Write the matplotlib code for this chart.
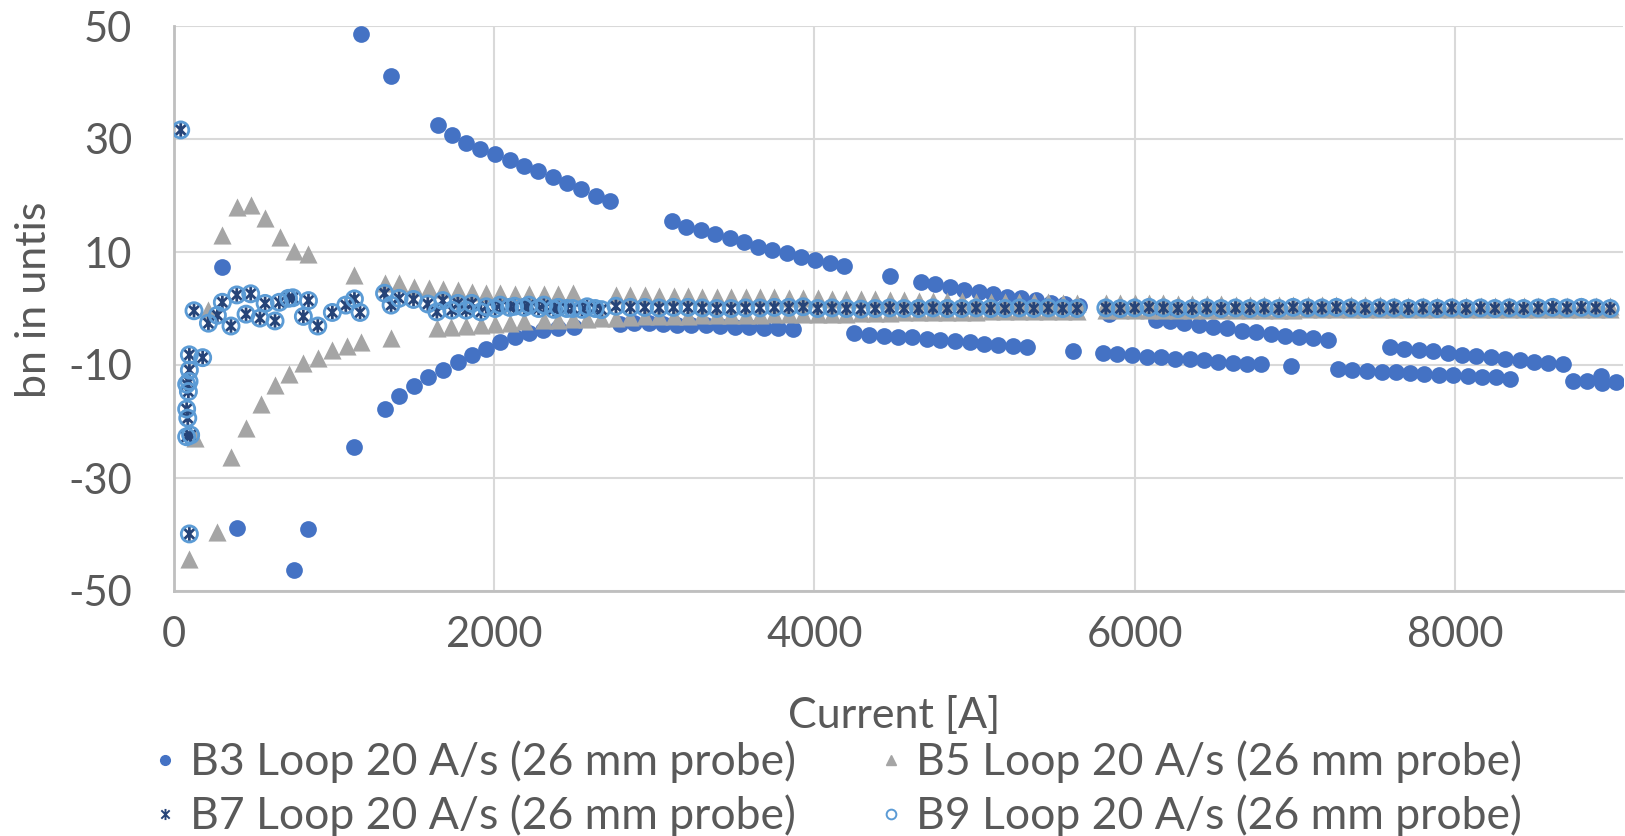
import numpy as np
import matplotlib
matplotlib.use("Agg")
import matplotlib.pyplot as plt
from matplotlib.path import Path
from matplotlib.lines import Line2D

plt.rcParams['font.family'] = ['Lato', 'DejaVu Sans']
plt.rcParams['axes.unicode_minus'] = False

# datos
# B3 (circulos azules)
b3_current = [302, 392, 748, 840, 1127, 1167, 1355,
              1646, 1735, 1825, 1912, 2006, 2096, 2187, 2273, 2365, 2455, 2544, 2634, 2723,
              3109, 3198, 3292, 3381, 3471, 3560, 3649, 3738, 3827, 3917, 4006, 4096, 4185,
              4475, 4667, 4756, 4846, 4933, 5027, 5115, 5204, 5292, 5385, 5475, 5562, 5650, 5840,
              6131, 6221, 6308, 6402, 6492, 6579, 6669, 6760, 6850, 6937, 7027, 7114, 7208,
              7596, 7683, 7777, 7865, 7954, 8044, 8135, 8225, 8315, 8404, 8496, 8583, 8673, 8912,
              1315, 1404, 1496, 1585, 1679, 1773, 1860, 1950, 2037, 2127, 2217, 2306, 2400, 2496,
              2783, 2875, 2964, 3056, 3142, 3231, 3323, 3412, 3504, 3594, 3683, 3773, 3864,
              4246, 4340, 4433, 4523, 4610, 4700, 4787, 4877, 4971, 5058, 5148, 5240, 5329, 5617,
              5802, 5892, 5985, 6075, 6162, 6252, 6344, 6433, 6523, 6614, 6704, 6792, 6979,
              7273, 7360, 7450, 7542, 7631, 7721, 7808, 7898, 7987, 8079, 8167, 8256, 8346,
              8735, 8825, 8917, 9006]
b3_values = [7.4, -38.9, -46.3, -39.1, -24.5, 48.5, 41.2,
             32.5, 30.7, 29.3, 28.2, 27.3, 26.3, 25.3, 24.3, 23.2, 22.2, 21.1, 20.0, 19.0,
             15.4, 14.5, 13.9, 13.1, 12.4, 11.7, 10.9, 10.4, 9.8, 9.2, 8.6, 8.0, 7.5,
             5.8, 4.7, 4.3, 3.75, 3.3, 2.9, 2.5, 2.1, 1.8, 1.5, 1.0, 0.8, 0.4, -0.9,
             -2.0, -2.3, -2.6, -2.9, -3.3, -3.5, -3.9, -4.2, -4.5, -4.8, -5.1, -5.3, -5.6,
             -6.9, -7.1, -7.3, -7.6, -7.9, -8.2, -8.4, -8.6, -8.9, -9.1, -9.4, -9.7, -9.9, -11.9,
             -17.8, -15.4, -13.8, -12.2, -10.9, -9.5, -8.2, -7.1, -6.0, -5.0, -4.3, -3.8, -3.5, -3.3,
             -2.7, -2.6, -2.6, -2.7, -2.9, -3.0, -3.0, -3.1, -3.2, -3.3, -3.4, -3.5, -3.6,
             -4.4, -4.7, -4.8, -5.0, -5.1, -5.4, -5.6, -5.8, -6.0, -6.3, -6.5, -6.6, -6.9, -7.5,
             -7.9, -8.1, -8.3, -8.5, -8.6, -8.9, -9.0, -9.2, -9.4, -9.6, -9.8, -9.9, -10.1,
             -10.7, -10.9, -11.0, -11.2, -11.3, -11.5, -11.6, -11.8, -11.8, -11.9, -12.1, -12.2, -12.4,
             -12.8, -12.9, -13.1, -13.0]

# B5 (triangulos grises)
b5_current = [96, 131, 210, 271, 302, 356, 392, 448, 479, 542, 571, 631, 662, 719, 750,
              808, 840, 898, 989, 1079, 1127, 1167, 1356,
              1315, 1406, 1500, 1590, 1679, 1773, 1860, 1950, 2037, 2127, 2217,
              2310, 2400, 2490, 2760, 2850, 2940, 3030, 3120, 3210, 3300, 3390, 3480, 3570,
              3660, 3750, 3840, 3930, 4020, 4110, 4200, 4290, 4380, 4470, 4560, 4650, 4740,
              4830, 4920, 5010, 5100, 5190, 5280, 5370, 5460, 5550, 5640, 5820, 5910, 6000,
              6090, 6180, 6270, 6360, 6450, 6540, 6630, 6720, 6810, 6900, 6990, 7080, 7170,
              7260, 7350, 7440, 7530, 7620, 7710, 7800, 7890, 7980, 8070, 8160, 8250, 8340,
              8430, 8520, 8610, 8700, 8790, 8880, 8970,
              1642, 1731, 1825, 1917, 2006, 2096, 2187,
              2310, 2400, 2490, 2580, 2670, 2760, 2850, 2940, 3030, 3120, 3210, 3300, 3390,
              3480, 3570, 3660, 3750, 3840, 3930, 4020, 4110, 4200, 4290, 4380, 4470, 4560,
              4650, 4740, 4830, 4920, 5010, 5100, 5190, 5280, 5370, 5460, 5550, 5640, 5820,
              5910, 6000, 6090, 6180, 6270, 6360, 6450, 6540, 6630, 6720, 6810, 6900, 6990,
              7080, 7170, 7260, 7350, 7440, 7530, 7620, 7710, 7800, 7890, 7980, 8070, 8160,
              8250, 8340, 8430, 8520, 8610, 8700, 8790, 8880, 8970]
b5_values = [-44.4, -23.0, -0.2, -39.5, 13.0, -26.2, 17.9, -21.1, 18.4, -16.9, 16.0, -13.5, 12.6, -11.6, 10.1,
             -9.6, 9.6, -8.8, -7.3, -6.6, 5.9, -5.9, -5.3,
             4.5, 4.5, 3.75, 3.6, 3.4, 3.2, 3.0, 2.7, 2.8, 2.6, 2.6,
             2.6, 2.6, 2.7, 2.4, 2.4, 2.4, 2.3, 2.3, 2.2, 2.1, 2.1, 2.0, 2.0,
             2.0, 2.0, 1.9, 1.8, 1.8, 1.7, 1.7, 1.6, 1.6, 1.5, 1.5, 1.4, 1.4,
             1.3, 1.3, 1.2, 1.2, 1.2, 1.1, 1.1, 1.1, 1.0, 1.0, 1.0, 0.9, 0.9,
             0.9, 0.9, 0.8, 0.8, 0.8, 0.8, 0.7, 0.7, 0.7, 0.7, 0.7, 0.6, 0.6,
             0.6, 0.6, 0.6, 0.6, 0.5, 0.5, 0.5, 0.5, 0.5, 0.5, 0.5, 0.5, 0.5,
             0.5, 0.5, 0.5, 0.5, 0.5, 0.5, 0.5,
             -3.5, -3.2, -3.1, -2.9, -2.7, -2.5, -2.3,
             -2.1, -2.0, -1.9, -1.8, -1.7, -1.6, -1.5, -1.4, -1.4, -1.3, -1.3, -1.2, -1.2,
             -1.1, -1.1, -1.1, -1.0, -1.0, -1.0, -0.9, -0.9, -0.9, -0.8, -0.8, -0.8, -0.7,
             -0.7, -0.7, -0.6, -0.6, -0.6, -0.5, -0.5, -0.5, -0.4, -0.4, -0.4, -0.4, -0.3,
             -0.3, -0.3, -0.3, -0.3, -0.2, -0.2, -0.2, -0.2, -0.2, -0.2, -0.2, -0.2, -0.2,
             -0.1, -0.1, -0.1, -0.1, -0.1, -0.1, -0.1, -0.1, -0.1, -0.1, -0.1, -0.1, -0.1,
             -0.1, -0.1, -0.1, -0.1, -0.1, -0.1, -0.1, -0.1, -0.1]

# B7 (asteriscos) y B9 (circulos abiertos) casi coinciden
b7_current = [42, 96, 179, 96, 94, 90, 79, 79, 86, 79, 104, 96,
              125, 215, 271, 302, 356, 392, 450, 479, 537, 569, 631, 658, 715, 742,
              808, 840, 898, 989, 1073, 1127, 1162, 1315, 1356, 1406, 1496, 1585,
              1642, 1679, 1735, 1773, 1825, 1860, 1917, 1950, 2006, 2037, 2096, 2127,
              2187, 2217, 2277, 2371, 2454, 2548, 2631,
              2310, 2400, 2490, 2580, 2670, 2760, 2850, 2940, 3030, 3120, 3210, 3300, 3390,
              3480, 3570, 3660, 3750, 3840, 3930, 4020, 4110, 4200, 4290, 4380, 4470, 4560,
              4650, 4740, 4830, 4920, 5010, 5100, 5190, 5280, 5370, 5460, 5550, 5640, 5820,
              5910, 6000, 6090, 6180, 6270, 6360, 6450, 6540, 6630, 6720, 6810, 6900, 6990,
              7080, 7170, 7260, 7350, 7440, 7530, 7620, 7710, 7800, 7890, 7980, 8070, 8160,
              8250, 8340, 8430, 8520, 8610, 8700, 8790, 8880, 8970]
b7_values = [31.6, -8.2, -8.7, -10.9, -12.9, -14.7, -13.4, -17.8, -19.4, -22.7, -22.4, -39.9,
             -0.4, -2.6, -1.2, 1.1, -3.1, 2.4, -1.0, 2.6, -1.7, 0.9, -2.2, 1.1, 1.8, 1.9,
             -1.4, 1.4, -3.1, -0.7, 0.6, 1.7, -0.7, 2.7, 0.6, 1.8, 1.6, 0.8,
             -0.6, 1.4, -0.3, 0.9, -0.3, 0.9, -0.6, 0.3, 0.0, 0.6, 0.2, 0.4,
             0.2, 0.6, 0.0, -0.15, 0.0, -0.15, 0.0,
             0.6, 0.2, 0.0, 0.3, -0.2, 0.4, 0.2, 0.2, 0.1, 0.2, 0.2, 0.1, 0.0,
             0.0, 0.1, 0.1, 0.2, 0.2, 0.3, 0.0, 0.1, 0.0, -0.1, 0.0, 0.1, 0.0,
             0.0, 0.1, 0.0, 0.0, 0.1, 0.0, 0.0, 0.1, 0.0, 0.1, 0.0, 0.0, 0.1,
             0.0, 0.1, 0.2, 0.1, 0.0, 0.0, 0.1, 0.0, 0.1, 0.0, 0.1, 0.0, 0.2,
             0.1, 0.1, 0.2, 0.1, 0.0, 0.1, 0.1, 0.0, 0.1, 0.0, 0.1, 0.0, 0.1,
             0.0, 0.1, 0.0, 0.1, 0.2, 0.1, 0.2, 0.1, 0.0]
b9_current = list(b7_current)
b9_values = list(b7_values)

labels = ["B3 Loop 20 A/s (26 mm probe)", "B5 Loop 20 A/s (26 mm probe)",
          "B7 Loop 20 A/s (26 mm probe)", "B9 Loop 20 A/s (26 mm probe)"]
c_b3, c_b5, c_b7, c_b9 = "#4472C4", "#A5A5A5", "#264478", "#5B9BD5"
txt = "#595959"

# marcador tipo asterisco de excel
star = Path([(0, -1), (0, 1), (-0.75, -0.75), (0.75, 0.75), (-0.75, 0.75), (0.75, -0.75)],
            [Path.MOVETO, Path.LINETO] * 3)

W, H = 1625, 836
fig = plt.figure(figsize=(W / 100, H / 100), dpi=100)
ax = fig.add_axes([174 / W, 1 - 591 / H, (1623 - 174) / W, (591 - 26) / H])

ax.scatter(b3_current, b3_values, s=145, marker='o', color=c_b3, linewidths=0, zorder=3)
ax.scatter(b5_current, b5_values, s=170, marker='^', color=c_b5, linewidths=0, zorder=3)
ax.scatter(b7_current, b7_values, s=100, marker=star, facecolor='none', edgecolor=c_b7,
           linewidths=2.0, zorder=4)
ax.scatter(b9_current, b9_values, s=135, marker='o', facecolor='none', edgecolor=c_b9,
           linewidths=2.0, zorder=5)

ax.set_xlim(0, 9050)
ax.set_ylim(-50, 50)
ax.set_xticks([0, 2000, 4000, 6000, 8000])
ax.set_yticks([-50, -30, -10, 10, 30, 50])
ax.grid(True, color='#D9D9D9', lw=1.5, zorder=0)
ax.set_axisbelow(True)
for s in ['top', 'right']:
    ax.spines[s].set_visible(False)
for s in ['left', 'bottom']:
    ax.spines[s].set_color('#BFBFBF')
    ax.spines[s].set_linewidth(2)
ax.tick_params(axis='both', length=0, labelsize=30, labelcolor=txt)
ax.tick_params(axis='y', pad=30)
ax.tick_params(axis='x', pad=18)

fig.text(894 / W, 1 - 715 / H, "Current [A]", fontsize=31, color=txt, ha='center', va='center')
fig.text(34 / W, 1 - 300 / H, "bn in untis", fontsize=31, color=txt, ha='center', va='center',
         rotation=90)

handles = [Line2D([], [], ls='none', marker='o', color=c_b3, markersize=7),
           Line2D([], [], ls='none', marker=star, markeredgecolor=c_b7, markerfacecolor='none',
                  markersize=8, markeredgewidth=1.4),
           Line2D([], [], ls='none', marker='^', color=c_b5, markersize=7),
           Line2D([], [], ls='none', marker='o', markerfacecolor='none', markeredgecolor=c_b9,
                  markersize=7, markeredgewidth=1.4)]
leg = fig.legend(handles, [labels[0], labels[2], labels[1], labels[3]], ncol=2,
                 loc='center', bbox_to_anchor=(838 / W, 1 - 789 / H), frameon=False,
                 fontsize=32, handlelength=0.5, handletextpad=0.3, columnspacing=1.9,
                 labelspacing=0.25, borderpad=0)
for t in leg.get_texts():
    t.set_color(txt)

plt.savefig("out.png", dpi=100)
